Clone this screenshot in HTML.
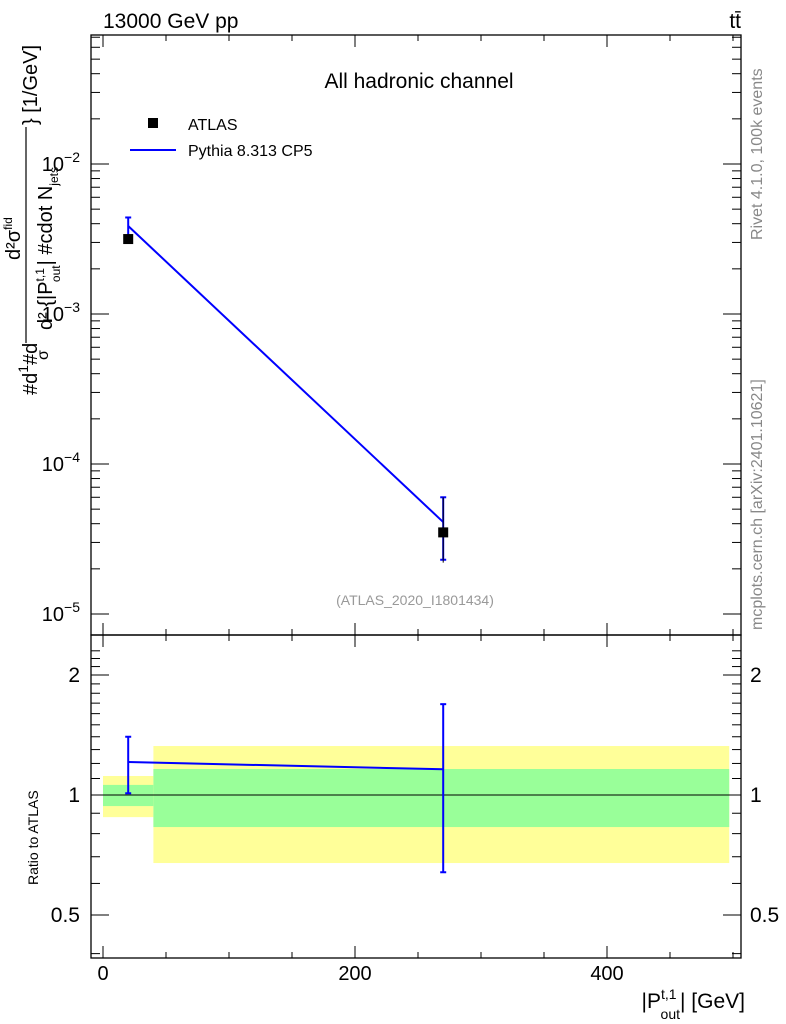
<!DOCTYPE html>
<html><head><meta charset="utf-8"><style>
body{margin:0;background:#fff;}
svg{display:block;font-family:"Liberation Sans",sans-serif;}
</style></head><body>
<svg id="c" width="786" height="1024" xmlns="http://www.w3.org/2000/svg"></svg>
<script>
const binEdges=[0,40,497];
const xCenters=[20,270];
const atlasVals=[3.16e-3,3.5e-5];
const atlasErrUp=[0,6.0e-5];
const atlasErrDn=[0,2.2e-5];
const pythiaVals=[3.86e-3,4.1e-5];
const pythiaErrUp=[4.4e-3,6.0e-5];
const pythiaErrDn=[3.3e-3,2.3e-5];
const ratioVals=[1.21,1.16];
const ratioErrUp=[1.40,1.69];
const ratioErrDn=[1.01,0.64];
const bandYellowUp=[1.116,1.327];
const bandYellowDn=[0.88,0.675];
const bandGreenUp=[1.06,1.162];
const bandGreenDn=[0.938,0.831];
const xTicks=[0,200,400];
const yTicksMain=[-2,-3,-4,-5];
const yTicksRatio=[0.5,1,2];

const NS="http://www.w3.org/2000/svg";
const svg=document.getElementById('c');
function el(t,a,p){const e=document.createElementNS(NS,t);for(const k in a)e.setAttribute(k,a[k]);(p||svg).appendChild(e);return e;}
const L=91,R=741,T=35,M=635,B=958;
const X=v=>103+v*1.26;
const Y=v=>164-(Math.log10(v)+2)*150;
const YR=v=>795-Math.log10(v)*398.6;

for(let i=0;i<2;i++){
 let r=el('rect',{x:X(binEdges[i]),y:YR(bandYellowUp[i]),width:X(binEdges[i+1])-X(binEdges[i]),height:YR(bandYellowDn[i])-YR(bandYellowUp[i]),fill:'#ffff99'});
 
 let g=el('rect',{x:X(binEdges[i]),y:YR(bandGreenUp[i]),width:X(binEdges[i+1])-X(binEdges[i]),height:YR(bandGreenDn[i])-YR(bandGreenUp[i]),fill:'#99ff99'});
 
}
let one=el('line',{x1:L,x2:R,y1:YR(1),y2:YR(1),stroke:'#000','stroke-width':1});


for(const [y1,y2,n] of [[T,M,'main-frame'],[M,B,'ratio-frame']]){
 let f=el('rect',{x:L,y:y1,width:R-L,height:y2-y1,fill:'none',stroke:'#000','stroke-width':1.3});
 
}
for(let v=0;v<=500;v+=50){
 const maj=v%200==0, len=maj?12:6;
 for(const [yb,yt] of [[M,T],[B,M]]){
  el('line',{x1:X(v),x2:X(v),y1:yb,y2:yb-len,stroke:'#000'});
  el('line',{x1:X(v),x2:X(v),y1:yt,y2:yt+len,stroke:'#000'});
 }
}
xTicks.forEach(v=>{let t=el('text',{x:X(v),y:980,'font-size':20,'text-anchor':'middle'});t.textContent=v;
 });
for(let d=-5;d<=-1;d++)for(let m=1;m<10;m++){
 const v=m*Math.pow(10,d),y=Y(v);if(y<T||y>M)continue;
 const len=m==1?18:9;
 el('line',{x1:L,x2:L+len,y1:y,y2:y,stroke:'#000'});el('line',{x1:R,x2:R-len,y1:y,y2:y,stroke:'#000'});
}
yTicksMain.forEach(d=>{let t=el('text',{x:80,y:Y(Math.pow(10,d))+7,'font-size':20,'text-anchor':'end'});
 t.innerHTML='10<tspan dy="-9" font-size="14">−'+(-d)+'</tspan>';
 });
for(let v=0.4;v<=2.31;v+=0.1){const y=YR(v);if(y<M||y>B)continue;
 const maj=[0.5,1,2].some(m=>Math.abs(m-v)<1e-6),len=maj?18:9;
 el('line',{x1:L,x2:L+len,y1:y,y2:y,stroke:'#000'});el('line',{x1:R,x2:R-len,y1:y,y2:y,stroke:'#000'});}
yTicksRatio.forEach(v=>{for(const [x,a] of [[80,'end'],[750,'start']]){let t=el('text',{x:x,y:YR(v)+7,'font-size':21,'text-anchor':a});t.textContent=v;
 }});

let pl=el('polyline',{points:xCenters.map((x,i)=>X(x)+','+Y(pythiaVals[i])).join(' '),fill:'none',stroke:'#0000ff','stroke-width':2});

xCenters.forEach((x,i)=>{
 el('line',{x1:X(x),x2:X(x),y1:Y(pythiaErrUp[i]),y2:Y(pythiaErrDn[i]),stroke:'#0000ff','stroke-width':2});
 for(const v of [pythiaErrUp[i],pythiaErrDn[i]])el('line',{x1:X(x)-3,x2:X(x)+3,y1:Y(v),y2:Y(v),stroke:'#0000ff','stroke-width':2});
 let m=el('rect',{x:X(x)-5,y:Y(atlasVals[i])-5,width:10,height:10,fill:'#000'});
 
 if(atlasErrUp[i])el('line',{x1:X(x),x2:X(x),y1:Y(atlasErrUp[i]),y2:Y(atlasErrDn[i]),stroke:'#000','stroke-width':1});
});
let rl=el('polyline',{points:xCenters.map((x,i)=>X(x)+','+YR(ratioVals[i])).join(' '),fill:'none',stroke:'#0000ff','stroke-width':2});

xCenters.forEach((x,i)=>{
 el('line',{x1:X(x),x2:X(x),y1:YR(ratioErrUp[i]),y2:YR(ratioErrDn[i]),stroke:'#0000ff','stroke-width':2});
 for(const v of [ratioErrUp[i],ratioErrDn[i]])el('line',{x1:X(x)-3,x2:X(x)+3,y1:YR(v),y2:YR(v),stroke:'#0000ff','stroke-width':2});
});
</script>
<svg width="786" height="1024" style="position:absolute;left:0;top:0" xmlns="http://www.w3.org/2000/svg" font-family="Liberation Sans, sans-serif">
<text x="103" y="28" font-size="21">13000 GeV pp</text>
<text x="741" y="28" font-size="21" text-anchor="end">tt̄</text>
<text x="419" y="88" font-size="21" text-anchor="middle">All hadronic channel</text>
<rect x="148" y="118" width="10" height="10" fill="#000"/>
<text x="188" y="130" font-size="16">ATLAS</text>
<line x1="130" x2="176" y1="150" y2="150" stroke="#0000ff" stroke-width="2"/>
<text x="188" y="156" font-size="16">Pythia 8.313 CP5</text>
<text x="415" y="605" font-size="14" fill="#999" text-anchor="middle">(ATLAS_2020_I1801434)</text>
<g font-size="20">
<text transform="translate(37,395) rotate(-90)">#d<tspan font-size="14" dy="-9">1</tspan><tspan dy="9">#d</tspan></text>
<text transform="translate(48,360) rotate(-90)" font-size="16">σ</text>
<line x1="26" x2="26" y1="343" y2="127" stroke="#000" stroke-width="1.2"/>
<text transform="translate(20,260) rotate(-90)">d²σ<tspan font-size="12" dy="-8">fid</tspan></text>
<text transform="translate(52,330) rotate(-90)">d² {|P<tspan font-size="12" dy="-8">t,1</tspan><tspan font-size="12" dx="-14" dy="16">out</tspan><tspan dy="-8">| #cdot N</tspan><tspan font-size="12" dy="6">jets</tspan></text>
<text transform="translate(37,125) rotate(-90)">} [1/GeV]</text>
</g>
<text transform="translate(38,885) rotate(-90)" font-size="14">Ratio to ATLAS</text>
<text x="745" y="1008" font-size="21" text-anchor="end">|P<tspan font-size="14" dy="-9">t,1</tspan><tspan font-size="14" dx="-16" dy="20">out</tspan><tspan dy="-11">| [GeV]</tspan></text>
<text transform="translate(762,240) rotate(-90)" font-size="16" fill="#888">Rivet 4.1.0,  100k events</text>
<text transform="translate(762,630) rotate(-90)" font-size="16" fill="#888">mcplots.cern.ch [arXiv:2401.10621]</text>
</svg>
</body></html>
